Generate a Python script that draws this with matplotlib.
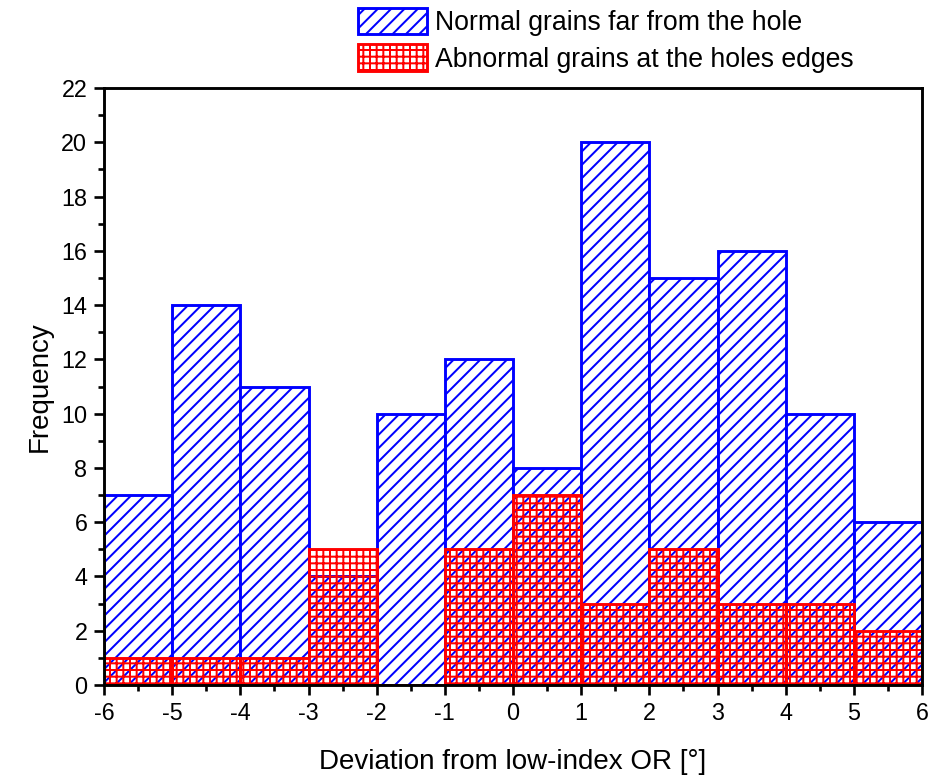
import numpy as np
import matplotlib
matplotlib.use("Agg")
import matplotlib.pyplot as plt
from matplotlib.ticker import MultipleLocator

# bins of 1 degree from -6 to 6
bin_left = [-6, -5, -4, -3, -2, -1, 0, 1, 2, 3, 4, 5]
normal_counts = [7, 14, 11, 4, 10, 12, 8, 20, 15, 16, 10, 6]
abnormal_counts = [1, 1, 1, 5, 0, 5, 7, 3, 5, 3, 3, 2]
normal_label = "Normal grains far from the hole"
abnormal_label = "Abnormal grains at the holes edges"

plt.rcParams['font.family'] = ['Liberation Sans', 'DejaVu Sans']
plt.rcParams['hatch.linewidth'] = 1.8
plt.rcParams['axes.unicode_minus'] = False

DPI = 80
fig = plt.figure(figsize=(933 / DPI, 780 / DPI), dpi=DPI)
ax = fig.add_axes([104 / 933, 1 - 685 / 780, (922 - 104) / 933, (685 - 88) / 780])

b1 = ax.bar(bin_left, normal_counts, width=1, align='edge', facecolor='white',
            edgecolor='#0000ff', linewidth=2.6, hatch='//', label=normal_label, zorder=1)
b2 = ax.bar(bin_left, abnormal_counts, width=1, align='edge', facecolor='none',
            edgecolor='#ff0000', linewidth=2.6, hatch='++', label=abnormal_label, zorder=1.5)

ax.set_xlim(-6, 6)
ax.set_ylim(0, 22)
ax.xaxis.set_major_locator(MultipleLocator(1))
ax.xaxis.set_minor_locator(MultipleLocator(0.5))
ax.yaxis.set_major_locator(MultipleLocator(2))
ax.yaxis.set_minor_locator(MultipleLocator(1))
ax.tick_params(which='both', direction='out', width=2.4, top=False, right=False,
               labelsize=21, pad=6)
ax.tick_params(which='major', length=9)
ax.tick_params(which='minor', length=5)
for s in ax.spines.values():
    s.set_linewidth(2.6)

ax.set_xlabel("Deviation from low-index OR [°]", fontsize=25, labelpad=22)
ax.set_ylabel("Frequency", fontsize=25, labelpad=8)

fig.legend(handles=[b1, b2], loc='upper left', bbox_to_anchor=(358 / 933, 1 - 8 / 780),
           frameon=False, fontsize=24, borderpad=0, handlelength=2.6, handleheight=1.15,
           handletextpad=0.3, labelspacing=0.3, borderaxespad=0)

fig.savefig("out.png", dpi=DPI)
